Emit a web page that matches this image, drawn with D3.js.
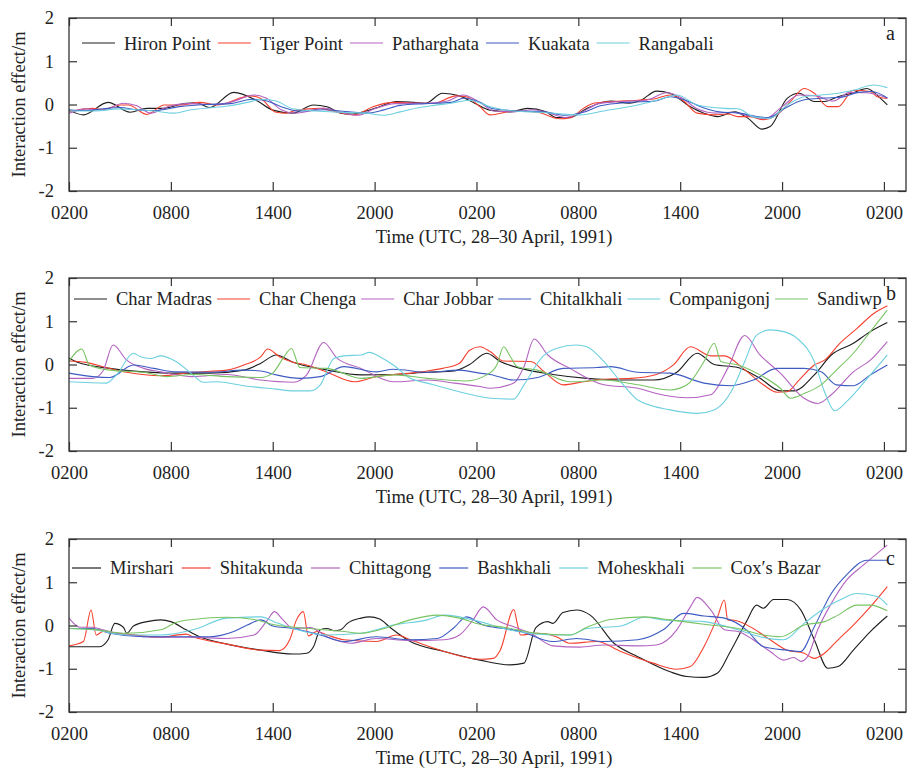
<!DOCTYPE html>
<html>
<head>
<meta charset="utf-8">
<script src="https://cdn.jsdelivr.net/npm/d3@7"></script>
<style>
  body { margin: 0; background: #fff; }
  svg { display: block; }
  text { font-family: "Liberation Serif", "Times New Roman", serif; fill: #222; }
</style>
</head>
<body>
<svg id="chart" width="910" height="769"></svg>
<script>
// hours after 0200 UTC 28 April
const tickHours = [0, 6, 12, 18, 24, 30, 36, 42, 48]
const tickLabels = ["0200", "0800", "1400", "2000", "0200", "0800", "1400", "2000", "0200"]
const yTicks = [-2, -1, 0, 1, 2]

// panel a
const hironPoint = [[0,-0.13],[0.85,-0.24],[2.3,0.05],[3.6,-0.18],[4.6,-0.09],[5.5,-0.09],[6.9,0.03],[7.5,0.04],[8.3,-0.07],[9.7,0.28],[11.1,0.08],[12,-0.13],[13.2,-0.2],[14.4,-0.01],[15.2,-0.05],[16,-0.2],[16.6,-0.22],[17.5,-0.15],[18.3,-0.05],[19.3,0.07],[20.3,0.05],[21,0.03],[22,0.26],[23,0.2],[23.9,0.03],[24.8,-0.13],[26,-0.17],[27,-0.09],[28.1,-0.17],[28.7,-0.3],[29.5,-0.3],[30.5,-0.09],[31.9,0.08],[33,0.03],[33.7,0.1],[34.6,0.31],[35.4,0.26],[36.6,-0.05],[37.4,-0.2],[38.2,-0.28],[39.2,-0.17],[40,-0.32],[40.8,-0.57],[41.3,-0.51],[42.3,0.14],[43,0.26],[43.9,0.07],[44.5,0.07],[45.3,0.18],[46.1,0.26],[47,0.37],[47.8,0.14],[48.2,-0.01]]
const tigerPoint = [[0,-0.17],[1.4,-0.09],[2,-0.12],[3,-0.01],[3.5,-0.01],[4.6,-0.23],[5.6,-0.01],[6.6,-0.01],[7.7,0.05],[8.7,-0.01],[10.7,0.2],[11.3,0.14],[12.2,-0.18],[12.8,-0.2],[13.4,-0.13],[14.8,-0.09],[15.8,-0.18],[16.8,-0.24],[17.9,-0.05],[19.1,0.05],[20.7,0.03],[21.5,0.03],[22.8,0.2],[23.4,0.18],[24.2,-0.05],[24.8,-0.24],[26.2,-0.15],[27.6,-0.18],[28.9,-0.33],[29.5,-0.31],[30.3,-0.09],[30.9,0.03],[32.1,0.07],[33.5,0.1],[34.6,0.14],[35.4,0.22],[36.2,0.08],[37,-0.2],[38,-0.24],[38.8,-0.22],[39.4,-0.28],[40.1,-0.28],[40.9,-0.35],[41.7,-0.24],[42.5,0.07],[43.3,0.37],[43.9,0.26],[44.7,-0.05],[45.3,-0.05],[46.2,0.33],[47.2,0.3],[47.6,0.18],[48.2,0.14]]
const patharghata = [[0,-0.2],[1,-0.1],[2,-0.13],[3.2,0.03],[4,-0.03],[4.8,-0.2],[5.8,-0.05],[7,0.02],[8.5,0],[9.5,0.05],[10.9,0.22],[11.6,0.15],[12.5,-0.12],[13.3,-0.2],[14.2,-0.15],[15,-0.08],[16,-0.18],[17,-0.25],[18,-0.1],[19.2,0.02],[21,0.03],[22.3,0.08],[23.2,0.22],[24.2,0.05],[25,-0.15],[26.2,-0.17],[27.3,-0.12],[28.3,-0.2],[29.2,-0.3],[30.2,-0.18],[31.2,0.02],[32.5,0.07],[34,0.1],[35.2,0.27],[36.1,0.15],[37,-0.1],[38.1,-0.2],[39,-0.18],[40,-0.26],[41,-0.33],[42,-0.05],[43,0.22],[44,0.2],[45,0.08],[46,0.28],[47,0.27],[48.2,0.15]]
const kuakata = [[0,-0.12],[1,-0.14],[2,-0.1],[3,-0.07],[4,-0.12],[5,-0.14],[6.5,-0.05],[8,0],[9.5,0.02],[10.8,0.12],[11.5,0.1],[12.5,-0.05],[13.5,-0.15],[15,-0.12],[16.5,-0.17],[17.5,-0.2],[18.5,-0.13],[19.5,-0.02],[21,0.02],[22.5,0.05],[23.3,0.15],[24.2,0.05],[25,-0.1],[26.5,-0.15],[28,-0.17],[29.2,-0.25],[30.3,-0.18],[31.3,-0.03],[33,0.05],[34.5,0.08],[35.4,0.18],[36.3,0.1],[37.2,-0.05],[38.3,-0.17],[39.5,-0.2],[40.5,-0.28],[41.2,-0.3],[42.2,-0.08],[43.2,0.1],[44.5,0.15],[45.5,0.17],[46.5,0.28],[47.3,0.3],[48.2,0.15]]
const rangabali = [[0,-0.15],[1.5,-0.15],[3,-0.1],[4,-0.12],[5,-0.15],[6.2,-0.2],[7.2,-0.12],[8.5,-0.07],[9.5,-0.03],[10.5,0.05],[11.4,0.12],[12.2,0.08],[13.2,-0.1],[14.5,-0.15],[16,-0.18],[17.5,-0.2],[18.5,-0.25],[19.5,-0.17],[20.5,-0.08],[21.5,-0.02],[22.5,0.03],[23.6,0.1],[24.8,-0.05],[26.2,-0.15],[27.8,-0.18],[29.5,-0.23],[30.1,-0.24],[31.5,-0.15],[33.5,-0.01],[35,0.14],[35.8,0.22],[37,-0.01],[38.6,-0.09],[39.4,-0.1],[40.3,-0.28],[41.3,-0.32],[42.3,-0.01],[43.3,0.18],[44.3,0.22],[45.3,0.26],[46.2,0.33],[47.4,0.45],[48.2,0.39]]

// panel b
const charMadras = [[0,0.15],[0.5,0.05],[2.4,-0.09],[4.4,-0.17],[6.3,-0.2],[8.3,-0.2],[10.3,-0.13],[11.3,0.03],[12.2,0.22],[13.2,0.05],[15.2,-0.13],[17.2,-0.24],[19.1,-0.23],[21.1,-0.18],[22.7,-0.15],[23.6,0],[24.6,0.26],[25.4,0.07],[26.6,-0.09],[28.5,-0.23],[30.5,-0.32],[32.5,-0.36],[34.4,-0.36],[35.8,-0.18],[37,0.26],[38,0],[39.4,-0.07],[40.7,-0.32],[41.9,-0.61],[42.7,-0.61],[43.9,-0.24],[44.9,0.22],[46.2,0.49],[47.2,0.76],[48.2,0.97]]
const charChenga = [[0,0.08],[1,0.05],[2,-0.05],[3.4,-0.18],[5.4,-0.26],[7.3,-0.18],[9.3,-0.13],[10.3,-0.01],[11.3,0.18],[11.7,0.36],[12.4,0.18],[13.2,0.05],[14,-0.01],[15.2,-0.18],[16.8,-0.4],[18.1,-0.28],[20.1,-0.2],[21.1,-0.15],[22,-0.09],[23,0.03],[23.6,0.33],[24.2,0.41],[24.8,0.3],[25.6,0.08],[27.2,0.07],[28,-0.17],[29.1,-0.47],[30.3,-0.4],[31.5,-0.34],[33.1,-0.32],[34.6,-0.23],[35.6,-0.01],[36.6,0.41],[37.8,0.2],[38.6,0.2],[39.7,-0.09],[40.9,-0.47],[41.7,-0.64],[42.3,-0.63],[43,-0.36],[43.9,-0.01],[44.5,0.1],[45.4,0.49],[46.4,0.83],[47.4,1.18],[48.2,1.36]]
const charJobbar = [[0,-0.32],[1.4,-0.32],[2,-0.15],[2.6,0.45],[3.4,0.1],[4.4,-0.09],[5.4,-0.17],[7.3,-0.28],[9.3,-0.23],[11.3,-0.36],[13.2,-0.41],[14,-0.24],[15,0.51],[15.8,0.14],[17.2,-0.09],[19.1,-0.4],[21.1,-0.36],[22.7,-0.43],[24.2,-0.51],[24.8,-0.55],[26.2,-0.43],[26.8,-0.05],[27.4,0.59],[28.2,0.22],[29.5,-0.09],[31.5,-0.47],[33.5,-0.55],[34.6,-0.67],[36.4,-0.77],[37.8,-0.7],[38.8,-0.09],[39.8,0.67],[40.7,0.22],[41.9,-0.2],[43.3,-0.78],[44.1,-0.9],[44.9,-0.7],[46.2,-0.17],[47.2,0.1],[48.2,0.53]]
const chitalkhali = [[0,-0.2],[1.4,-0.28],[2.4,-0.3],[3.8,-0.01],[5,-0.09],[6.3,-0.17],[8.3,-0.18],[10.3,-0.13],[11.3,-0.15],[12.2,-0.24],[13.6,-0.32],[14.8,-0.28],[16.2,-0.05],[18.1,-0.17],[19.1,-0.11],[21.1,-0.18],[23,-0.13],[24.2,-0.2],[24.8,-0.23],[26.2,-0.36],[27.6,-0.3],[29.1,-0.09],[31.1,-0.07],[31.9,-0.05],[33.5,-0.18],[35.4,-0.2],[37.4,-0.43],[39,-0.49],[40.3,-0.36],[41.7,-0.09],[43.3,-0.09],[44.3,-0.17],[45.2,-0.47],[46.2,-0.49],[47.2,-0.24],[48.2,-0.01]]
const companigonj = [[0,-0.4],[2.2,-0.43],[2.8,-0.24],[3.8,0.26],[4.2,0.18],[4.8,0.14],[5.4,0.2],[6.3,0.07],[7.3,-0.24],[7.9,-0.41],[8.7,-0.4],[10.3,-0.49],[12.2,-0.57],[13.2,-0.61],[14.2,-0.61],[14.8,-0.47],[15.6,0.14],[16.2,0.2],[17.2,0.22],[17.7,0.28],[18.3,0.18],[19.1,-0.01],[20.1,-0.32],[21.1,-0.43],[23,-0.63],[24.2,-0.74],[24.8,-0.78],[26.2,-0.8],[26.8,-0.47],[27.9,0.18],[28.7,0.37],[29.9,0.45],[30.5,0.41],[31.5,0.07],[32.5,-0.4],[33.5,-0.82],[35.4,-1.05],[37,-1.13],[38,-1.05],[39,-0.63],[39.8,0.07],[40.5,0.68],[41.3,0.8],[42.1,0.76],[42.9,0.6],[43.9,0.07],[44.5,-0.63],[45.1,-1.07],[45.8,-0.86],[47.2,-0.24],[48.2,0.22]]
const sandiwp = [[0,0.07],[0.75,0.36],[1.2,-0.01],[2.4,-0.13],[4.4,-0.18],[5.8,-0.28],[7.3,-0.23],[9.3,-0.28],[11.3,-0.3],[12,-0.2],[12.6,0.14],[13.1,0.37],[13.6,-0.07],[15.2,-0.09],[17.2,-0.32],[19.1,-0.24],[21.1,-0.32],[23.4,-0.38],[24.6,-0.24],[25.2,-0.01],[25.6,0.41],[26,0.18],[26.4,-0.05],[27.6,-0.13],[29.5,-0.4],[31.5,-0.36],[33.5,-0.47],[35.4,-0.59],[36.4,-0.47],[37.4,0.07],[38,0.49],[38.4,0.07],[39.4,-0.01],[40.7,-0.24],[41.9,-0.55],[42.5,-0.78],[43.3,-0.67],[44.3,-0.47],[45.2,-0.13],[46.2,0.26],[47.2,0.76],[48.2,1.26]]

// panel c
const mirshari = [[0,-0.49],[1.8,-0.49],[2.3,-0.33],[2.7,0.05],[3.2,-0.04],[3.4,-0.18],[3.8,-0.01],[4.6,0.09],[5.4,0.13],[6,0.09],[6.9,-0.1],[7.7,-0.26],[9.3,-0.43],[11.3,-0.57],[13.2,-0.66],[14,-0.64],[14.4,-0.49],[14.8,-0.1],[15.2,-0.07],[15.6,-0.12],[16,-0.1],[16.4,0.05],[17.2,0.17],[17.7,0.2],[18.3,0.15],[18.9,-0.04],[20.1,-0.37],[22.1,-0.6],[24.2,-0.8],[26,-0.91],[26.8,-0.87],[27.5,-0.05],[28.2,0.09],[28.5,0.05],[29.1,0.3],[29.9,0.36],[30.7,0.24],[32.1,-0.41],[33.5,-0.72],[35.4,-1.07],[36.4,-1.18],[37.4,-1.2],[38.2,-1.1],[38.9,-0.64],[39.9,0.09],[40.5,0.47],[40.9,0.4],[41.5,0.6],[42.3,0.6],[43.1,0.36],[43.9,-0.33],[44.7,-0.99],[45.3,-0.95],[46.2,-0.57],[47.2,-0.14],[48.2,0.22]]
const shitakunda = [[0,-0.47],[0.85,-0.37],[1.3,0.36],[1.6,-0.22],[2,-0.14],[2.6,-0.17],[3.4,-0.2],[5.4,-0.27],[6.9,-0.2],[7.3,-0.26],[9.3,-0.43],[11.3,-0.57],[12.4,-0.58],[13,-0.33],[13.4,0.13],[13.8,0.32],[14.1,-0.24],[14.6,-0.14],[15.2,-0.22],[16.2,-0.33],[18.1,-0.37],[19.3,-0.22],[20.1,-0.33],[22.1,-0.6],[24.2,-0.78],[25,-0.76],[25.4,-0.57],[26.2,0.37],[26.4,0.05],[26.6,-0.22],[27.6,-0.18],[28.7,-0.26],[29.5,-0.41],[31.1,-0.37],[32.5,-0.6],[34.4,-0.87],[35.8,-1.01],[36.6,-0.95],[37.4,-0.49],[38.2,0.2],[38.6,0.59],[38.8,0.13],[39.2,0.12],[40.3,-0.07],[41.3,-0.33],[42.3,-0.57],[43.3,-0.64],[43.9,-0.76],[44.5,-0.64],[45.3,-0.33],[46.2,0.01],[47.2,0.43],[48.2,0.9]]
const chittagong = [[0,0.17],[0.65,-0.04],[1.4,-0.04],[2,-0.1],[3.4,-0.22],[5.4,-0.27],[7.3,-0.27],[9.3,-0.3],[10.9,-0.22],[11.7,0.13],[12.1,0.32],[12.6,0.13],[13.2,-0.07],[14.2,-0.05],[15.2,-0.26],[16.6,-0.41],[18.1,-0.3],[20.1,-0.35],[22.1,-0.33],[23,-0.22],[23.8,0.13],[24.4,0.43],[25.2,0.13],[26.2,-0.03],[27.2,-0.18],[28.5,-0.47],[30.1,-0.5],[31.5,-0.45],[33.5,-0.47],[34.6,-0.45],[35.8,-0.1],[36.6,0.43],[37,0.65],[37.8,0.36],[38.6,-0.1],[39.4,-0.14],[40.3,-0.33],[41.3,-0.6],[42.1,-0.8],[42.7,-0.74],[43.1,-0.83],[43.5,-0.72],[44.1,-0.1],[44.9,0.51],[45.8,1.05],[46.8,1.4],[48.2,1.86]]
const bashkhali = [[0,-0.07],[1.4,-0.07],[2.4,-0.18],[4.4,-0.26],[6.3,-0.26],[8.3,-0.26],[9.7,-0.14],[10.5,0.01],[11.3,0.13],[12,-0.01],[13.2,-0.07],[14.8,-0.22],[16.2,-0.37],[18.1,-0.26],[20.1,-0.33],[21.7,-0.3],[22.7,-0.04],[23.4,0.2],[24.4,0.01],[25.6,-0.07],[26.6,-0.14],[28.5,-0.37],[29.9,-0.3],[31.5,-0.37],[33.5,-0.33],[35,-0.1],[36.2,0.28],[37.4,0.22],[38.6,0.17],[39.9,-0.1],[40.9,-0.49],[42.3,-0.57],[43.1,-0.6],[43.9,-0.03],[44.9,0.74],[45.8,1.17],[47,1.51],[48.2,1.51]]
const moheskhali = [[0,-0.07],[1.4,-0.1],[3.4,-0.22],[5.4,-0.22],[7.3,-0.1],[9.3,0.17],[11.3,0.2],[12.2,0.07],[13.2,-0.07],[15.2,-0.22],[17.2,-0.18],[19.1,0.01],[21.1,0.13],[22.1,0.24],[24.2,0.09],[25.6,-0.07],[27.6,-0.2],[29.5,-0.22],[30.5,-0.07],[32.5,-0.01],[33.9,0.19],[35,0.13],[37.4,0.09],[39.4,-0.1],[40.7,-0.26],[42.1,-0.33],[43.3,0.05],[44.5,0.4],[45.4,0.59],[46.4,0.74],[47.6,0.67],[48.2,0.47]]
const coxsBazar = [[0,-0.07],[1.4,-0.09],[3.4,-0.18],[5.4,-0.1],[6.3,0.07],[7.3,0.14],[9.3,0.19],[10.9,0.14],[12.2,0.01],[14.2,-0.07],[16.2,-0.14],[17.2,-0.18],[18.3,-0.1],[20.1,0.13],[21.7,0.24],[23,0.17],[24.2,0.03],[25.6,-0.04],[27.6,-0.18],[29.5,-0.22],[30.5,-0.04],[31.9,0.14],[33.9,0.2],[35.4,0.13],[37.4,0.03],[39.4,-0.07],[40.9,-0.22],[41.9,-0.26],[43.3,0.01],[44.5,0.09],[45.3,0.24],[46.4,0.47],[47.2,0.47],[48.2,0.34]]

const black = "#1e1e1e", red = "#f5402f", purple = "#b463c0", blue = "#3d5bc2", cyan = "#6dd0de", green = "#78c463"

const panels = [
  {letter: "a", top: 18, legendLine: 25, legendText: 31.5, legendX: 82, lineLen: 33, gapA: 9, gapB: 7, letterY: 22,
   series: [["Hiron Point", hironPoint, black], ["Tiger Point", tigerPoint, red], ["Patharghata", patharghata, purple],
            ["Kuakata", kuakata, blue], ["Rangabali", rangabali, cyan]]},
  {letter: "b", top: 278, legendLine: 21, legendText: 27, legendX: 74, lineLen: 33, gapA: 9, gapB: 5, letterY: 22,
   series: [["Char Madras", charMadras, black], ["Char Chenga", charChenga, red], ["Char Jobbar", charJobbar, purple],
            ["Chitalkhali", chitalkhali, blue], ["Companigonj", companigonj, cyan], ["Sandiwp", sandiwp, green]]},
  {letter: "c", top: 539, legendLine: 29, legendText: 34.5, legendX: 72, lineLen: 29, gapA: 9, gapB: 8, letterY: 26,
   series: [["Mirshari", mirshari, black], ["Shitakunda", shitakunda, red], ["Chittagong", chittagong, purple],
            ["Bashkhali", bashkhali, blue], ["Moheskhali", moheskhali, cyan], ["Cox\u2032s Bazar", coxsBazar, green]]}
]

const left = 69, right = 906, plotH = 173
const fontSize = 18.5
const axisColor = "#333"

const svg = d3.select("#chart")

const x = d3.scaleLinear().domain([0, 49.3]).range([left, right])

panels.forEach(p => {
  const y = d3.scaleLinear().domain([-2, 2]).range([p.top + plotH, p.top])
  const g = svg.append("g")

  const line = d3.line()
    .x(d => x(d[0]))
    .y(d => y(d[1]))
    .curve(d3.curveMonotoneX)

  g.selectAll("path.series")
    .data(p.series)
    .join("path")
    .attr("class", "series")
    .attr("d", d => line(d[1]))
    .attr("fill", "none")
    .attr("stroke", d => d[2])
    .attr("stroke-width", 1.1)

  // axes, ticks pointing inward
  const bottom = g.append("g")
    .attr("transform", `translate(0,${p.top + plotH})`)
    .call(d3.axisBottom(x).tickValues(tickHours).tickFormat((d, i) => tickLabels[i])
      .tickSizeInner(-9).tickSizeOuter(0).tickPadding(15))
  const top = g.append("g")
    .attr("transform", `translate(0,${p.top})`)
    .call(d3.axisTop(x).tickValues(tickHours).tickFormat("").tickSizeInner(-8).tickSizeOuter(0))
  const leftAxis = g.append("g")
    .attr("transform", `translate(${left},0)`)
    .call(d3.axisLeft(y).tickValues(yTicks).tickFormat(d3.format("d"))
      .tickSizeInner(-8).tickSizeOuter(0).tickPadding(15))
  const rightAxis = g.append("g")
    .attr("transform", `translate(${right},0)`)
    .call(d3.axisRight(y).tickValues(yTicks).tickFormat("").tickSizeInner(-8).tickSizeOuter(0))

  ;[bottom, top, leftAxis, rightAxis].forEach(a => {
    a.select(".domain").remove()
    a.selectAll("line").attr("stroke", axisColor).attr("stroke-width", 1.2)
    a.selectAll("text").attr("font-size", fontSize).attr("fill", "#222")
      .attr("font-family", "Liberation Serif")
  })
  leftAxis.selectAll("text").text(d => d < 0 ? "-" + Math.abs(d) : d)

  g.append("rect")
    .attr("x", left).attr("y", p.top)
    .attr("width", right - left).attr("height", plotH)
    .attr("fill", "none").attr("stroke", axisColor).attr("stroke-width", 1.3)

  // legend
  let lx = p.legendX
  p.series.forEach(s => {
    g.append("line")
      .attr("x1", lx).attr("x2", lx + p.lineLen)
      .attr("y1", p.top + p.legendLine).attr("y2", p.top + p.legendLine)
      .attr("stroke", s[2]).attr("stroke-width", 1.2)
    const t = g.append("text")
      .attr("x", lx + p.lineLen + p.gapA)
      .attr("y", p.top + p.legendText)
      .attr("font-size", fontSize)
      .text(s[0])
    lx += p.lineLen + p.gapA + t.node().getComputedTextLength() + p.gapB
  })

  g.append("text")
    .attr("x", 886).attr("y", p.top + p.letterY)
    .attr("font-size", 20)
    .text(p.letter)

  g.append("text")
    .attr("x", 494).attr("y", p.top + plotH + 52)
    .attr("text-anchor", "middle")
    .attr("font-size", fontSize)
    .text("Time (UTC, 28\u201330 April, 1991)")

  g.append("text")
    .attr("transform", `translate(25,${p.top + plotH / 2}) rotate(-90)`)
    .attr("text-anchor", "middle")
    .attr("font-size", fontSize)
    .text("Interaction effect/m")
})
</script>
</body>
</html>
